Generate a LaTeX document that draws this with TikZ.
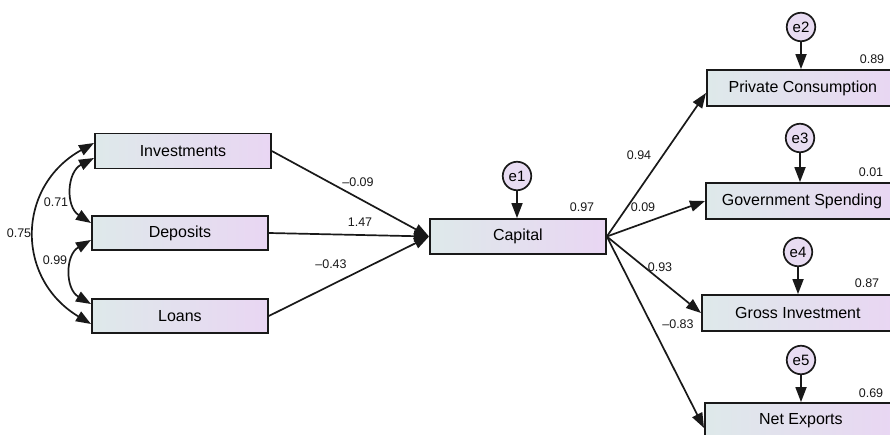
\documentclass[tikz,border=0pt]{standalone}
\usepackage{fontspec}
\setmainfont{Liberation Sans}
\usetikzlibrary{arrows.meta}
\definecolor{boxl}{RGB}{222,233,234}
\definecolor{boxr}{RGB}{233,214,243}
\definecolor{errc}{RGB}{232,220,242}
\definecolor{ink}{RGB}{25,25,25}
\begin{document}
\begin{tikzpicture}[x=1pt,y=-1pt,
  var/.style={rectangle,draw=ink,line width=1.8pt,minimum width=176pt,minimum height=35pt,
    left color=boxl,right color=boxr,font=\fontsize{16}{18}\selectfont,anchor=west,inner sep=0pt},
  rvar/.style={var,minimum width=192pt,minimum height=36pt},
  err/.style={circle,draw=ink,line width=1.7pt,fill=errc,minimum size=28.5pt,inner sep=0pt,font=\fontsize{15}{17}\selectfont},
  lab/.style={font=\fontsize{12.5}{14}\selectfont,text=ink,inner sep=0pt},
  arr/.style={-{Triangle[length=15pt,width=11pt]},line width=1.7pt,draw=ink},
  cov/.style={{Triangle[length=15pt,width=11pt]}-{Triangle[length=15pt,width=11pt]},line width=1.7pt,draw=ink}]
\useasboundingbox (0,0) rectangle (890,435);
\clip (0,0) rectangle (890,435);
\fill[white] (0,0) rectangle (890,435);
% exogenous
\node[var] (inv) at (94,151) {Investments};
\node[var,minimum height=34pt] (dep) at (91,233) {Deposits};
\node[var,minimum height=34pt] (loa) at (91,316) {Loans};
% mediator
\node[var] (cap) at (429,236.5) {Capital};
\node[err] (e1) at (517,176) {e1};
% outcomes
\node[rvar] (pc) at (706,88) {Private Consumption};
\node[rvar] (gs) at (705,201) {Government Spending};
\node[rvar] (gi) at (701,313) {Gross Investment};
\node[rvar] (ne) at (704,421) {Net Exports};
\node[err] (e2) at (801,27) {e2};
\node[err] (e3) at (800,138) {e3};
\node[err] (e4) at (798,252) {e4};
\node[err] (e5) at (801,360) {e5};
% paths into capital
\draw[arr] (inv.east) -- (cap.west);
\draw[arr] (dep.east) -- (cap.west);
\draw[arr] (loa.east) -- (cap.west);
% paths out of capital
\draw[arr] (cap.east) -- ([yshift=-5pt]pc.west);
\draw[arr] (cap.east) -- (gs.west);
\draw[arr] (cap.east) -- (gi.west);
\draw[arr] (cap.east) -- ([yshift=-7pt]ne.west);
% error terms
\draw[arr] (e1) -- (e1 |- cap.north);
\draw[arr] (e2) -- (e2 |- pc.north);
\draw[arr] (e3) -- (e3 |- gs.north);
\draw[arr] (e4) -- (e4 |- gi.north);
\draw[arr] (e5) -- (e5 |- ne.north);
% covariances
\draw[cov] ([yshift=-7pt]inv.west) to[bend right=60,looseness=1.2] ([yshift=10pt]dep.west);
\draw[cov] ([yshift=-7pt]dep.west) to[bend right=60,looseness=1.2] ([yshift=12pt]loa.west);
\draw[cov] ([yshift=8pt]inv.west) to[bend right=60,looseness=1.25] ([yshift=-8pt]loa.west);
% labels
\node[lab] (l071) at (56,202) {0.71};
\node[lab] (l099) at (55,260) {0.99};
\node[lab] (l075) at (19,233) {0.75};
\node[lab] (l009a) at (358,182) {--0.09};
\node[lab] (l147) at (360,222) {1.47};
\node[lab] (l043) at (331,264) {--0.43};
\node[lab] (l094) at (639,155) {0.94};
\node[lab] (l009b) at (643,207) {0.09};
\node[lab] (l093) at (660,267) {0.93};
\node[lab] (l083) at (678,324) {--0.83};
\node[lab] (r1) at (582,207) {0.97};
\node[lab] (r2) at (872,59) {0.89};
\node[lab] (r3) at (871,172) {0.01};
\node[lab] (r4) at (867,283) {0.87};
\node[lab] (r5) at (871,393) {0.69};
\end{tikzpicture}
\end{document}
